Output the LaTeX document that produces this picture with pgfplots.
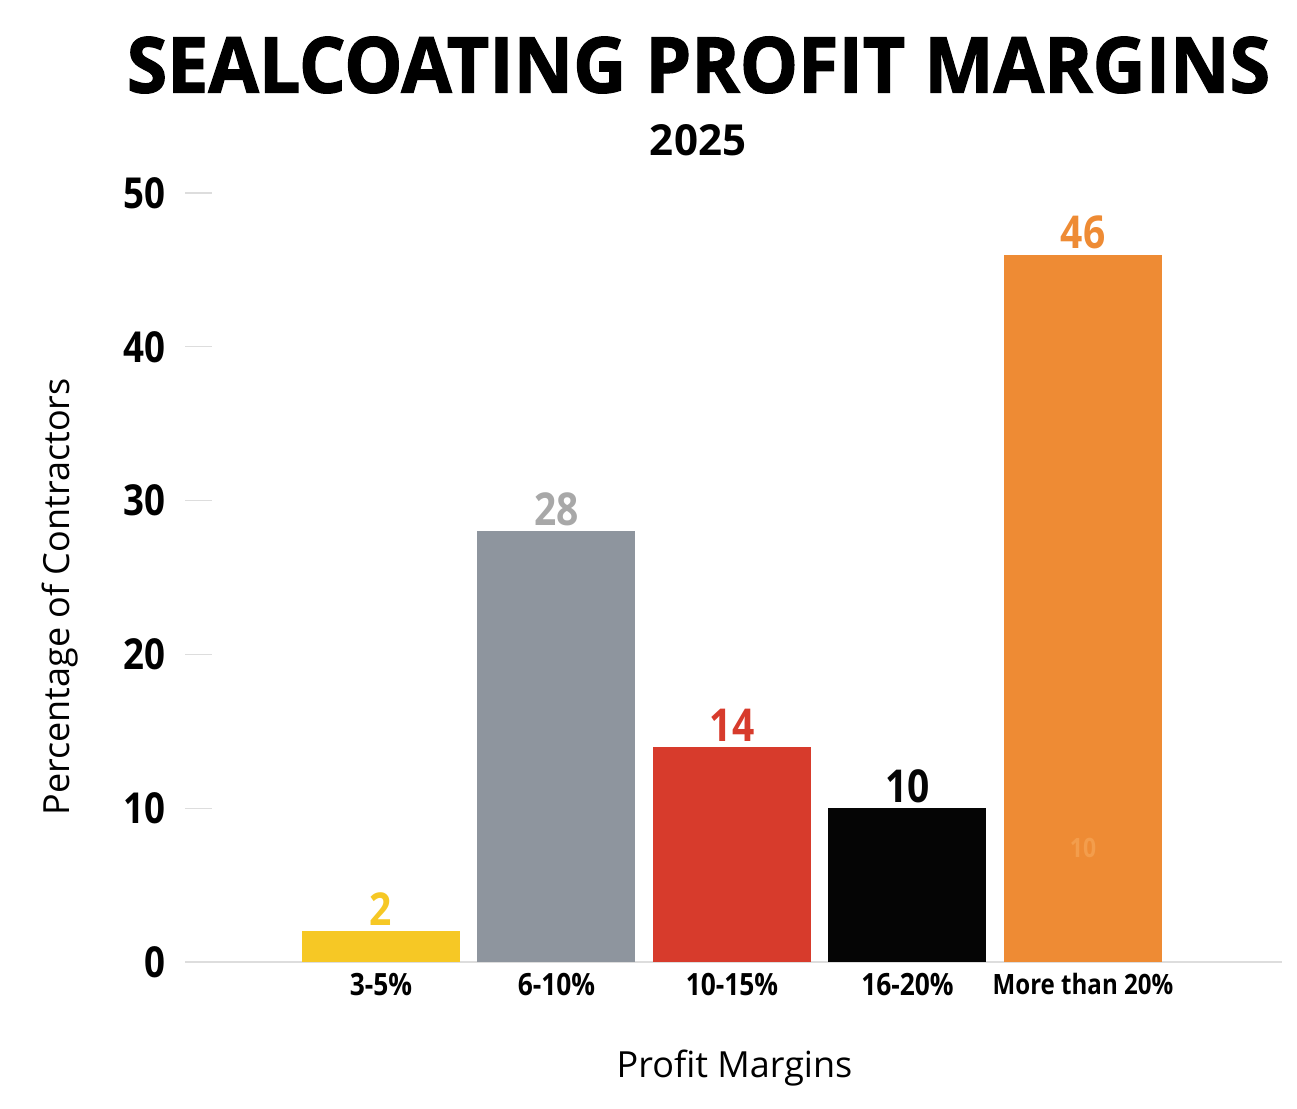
\documentclass[border=0pt]{standalone}
\usepackage{pgfplots}
\pgfplotsset{compat=1.18}
\usepackage{fontspec}
\setmainfont{Open Sans}
\newfontfamily\cb[FakeStretch=0.86]{Open Sans}
\newfontfamily\heavy[BoldFeatures={FakeBold=1.6}]{Open Sans}
\definecolor{cyel}{HTML}{F6C825}
\definecolor{cgray}{HTML}{8E959E}
\definecolor{cgraylab}{HTML}{A8A8A8}
\definecolor{cred}{HTML}{D73B2C}
\definecolor{cblack}{HTML}{050505}
\definecolor{corange}{HTML}{EE8B34}
\definecolor{cfaint}{HTML}{F39D4C}
\definecolor{gridgray}{HTML}{DDDDDD}
\begin{document}
\begin{tikzpicture}[x=0.75pt,y=0.75pt]
\useasboundingbox (0,0) rectangle (1297,1108);
\coordinate (O) at (185,146);
\node at (698.5,1043) {\resizebox{857.25pt}{42pt}{\heavy\bfseries SEALCOATING PROFIT MARGINS}};
\node at (698,967.5) {\resizebox{72pt}{23.25pt}{\bfseries 2025}};
\node[rotate=90,font=\fontsize{27pt}{27pt}\selectfont] at (60,511) {Percentage of Contractors};
\node[font=\fontsize{27pt}{27pt}\selectfont] at (734.5,40) {Profit Margins};
\begin{axis}[
  at={(O)}, anchor=south west, scale only axis,
  width=822.75pt, height=576.75pt,
  xmin=-1.1168, xmax=5.134, ymin=0, ymax=50,
  axis x line=bottom, axis y line=left,
  axis line style={-},
  y axis line style={draw=none},
  x axis line style={draw=gridgray, line width=1.2pt},
  /pgf/number format/assume math mode=true,
  ytick={0,10,20,30,40,50},
  ytick style={draw=gridgray, line width=1pt},
  major tick length=20.25pt, tick align=inside,
  yticklabel style={font=\fontsize{32pt}{32pt}\cb\bfseries, anchor=east, inner sep=0pt, xshift=-14.25pt},
  xtick={0,1,2,3,4},
  xtick style={draw=none},
  xticklabels={3-5\%,6-10\%,10-15\%,16-20\%,{\fontsize{21pt}{21pt}\selectfont More than 20\%}},
  xticklabel style={font=\fontsize{23pt}{23pt}\cb\bfseries, anchor=north, inner sep=0pt, yshift=-8.25pt},
  every node near coord/.append style={font=\fontsize{34pt}{34pt}\cb\bfseries, anchor=south, inner sep=0pt, yshift=4pt},
  clip=false,
]
\addplot[ybar, bar width=118.5pt, bar shift=0pt, fill=cyel, draw=none, nodes near coords, every node near coord/.append style={text=cyel}] coordinates {(0,2)};
\addplot[ybar, bar width=118.5pt, bar shift=0pt, fill=cgray, draw=none, nodes near coords, every node near coord/.append style={text=cgraylab}] coordinates {(1,28)};
\addplot[ybar, bar width=118.5pt, bar shift=0pt, fill=cred, draw=none, nodes near coords, every node near coord/.append style={text=cred}] coordinates {(2,14)};
\addplot[ybar, bar width=118.5pt, bar shift=0pt, fill=cblack, draw=none, nodes near coords, every node near coord/.append style={text=cblack}] coordinates {(3,10)};
\addplot[ybar, bar width=118.5pt, bar shift=0pt, fill=corange, draw=none, nodes near coords, every node near coord/.append style={text=corange}] coordinates {(4,46)};
\node[text=cfaint, font=\fontsize{20pt}{20pt}\cb\bfseries] at (axis cs:4,7.4) {10};
\end{axis}
\end{tikzpicture}
\end{document}
